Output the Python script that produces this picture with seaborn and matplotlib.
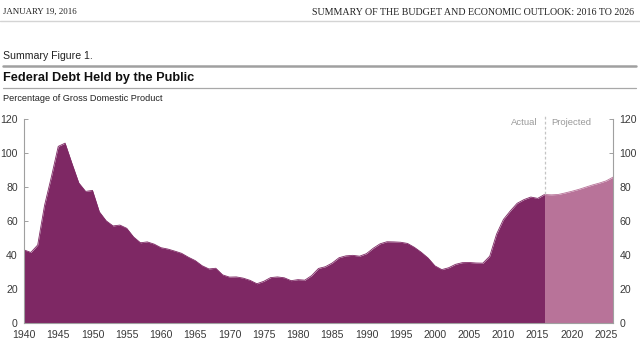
import matplotlib
matplotlib.use("Agg")
import matplotlib.pyplot as plt
import pandas as pd
import seaborn as sns

# Federal debt held by the public, percent of GDP (fiscal years)
years_actual = list(range(1940, 2016))
debt_actual = [
    43.0, 41.5, 45.9, 69.2, 86.0, 103.9, 105.8, 93.9, 82.4, 77.4,
    78.0, 65.4, 60.1, 57.1, 57.6, 55.7, 50.6, 47.2, 47.7, 46.4,
    44.3, 43.5, 42.3, 41.0, 38.7, 36.7, 33.7, 31.8, 32.2, 28.3,
    27.0, 27.1, 26.4, 25.1, 23.1, 24.5, 26.7, 27.1, 26.6, 24.9,
    25.5, 25.2, 27.9, 32.1, 33.1, 35.3, 38.4, 39.5, 39.8, 39.3,
    40.8, 44.0, 46.6, 47.8, 47.7, 47.5, 46.8, 44.5, 41.6, 38.2,
    33.6, 31.4, 32.5, 34.5, 35.5, 35.6, 35.3, 35.2, 39.3, 52.3,
    60.9, 65.9, 70.4, 72.6, 74.1, 73.3,
]
years_projected = list(range(2016, 2027))
debt_projected = [75.6, 75.4, 75.6, 76.5, 77.5, 78.6, 79.9, 81.2, 82.3, 83.6, 85.8]

x_ticks = list(range(1940, 2030, 5))
y_ticks = [0, 20, 40, 60, 80, 100, 120]

header_left = "JANUARY 19, 2016"
header_right = "SUMMARY OF THE BUDGET AND ECONOMIC OUTLOOK: 2016 TO 2026"
figure_label = "Summary Figure 1."
title = "Federal Debt Held by the Public"
subtitle = "Percentage of Gross Domestic Product"
label_actual = "Actual"
label_projected = "Projected"

DARK = "#7E2864"
LIGHT = "#B87399"
TEXT = "#3a3a3a"

sns.set_theme(style="white")
plt.rcParams["font.family"] = ["Liberation Sans Narrow", "Liberation Sans", "DejaVu Sans"]

W, H = 640, 347
fig = plt.figure(figsize=(W / 100, H / 100), dpi=100)

# page overlay in pixel coordinates for header, rules and titles
ov = fig.add_axes([0, 0, 1, 1])
ov.set_xlim(0, W)
ov.set_ylim(H, 0)
ov.axis("off")

serif = ["Liberation Serif", "DejaVu Serif"]
ov.text(3, 12, header_left, family=serif, fontsize=6.4, color="#222",
        va="center", ha="left")
ov.text(634, 12, header_right, family=serif, fontsize=7.2, color="#222",
        va="center", ha="right")
ov.plot([0, W], [20.5, 20.5], color="#d4d4d4", lw=1.0)

ov.text(3, 56, figure_label, fontsize=7.6, color="#222", va="center",
        ha="left", weight="medium")
ov.plot([3, 636], [65.7, 65.7], color="#a0a0a0", lw=1.8)
ov.text(3, 77.5, title, fontsize=9.2, color="#111", va="center", ha="left",
        weight="bold")
ov.plot([3, 636], [88.3, 88.3], color="#a8a8a8", lw=0.9)
ov.text(3, 98.5, subtitle, fontsize=6.6, color="#222", va="center", ha="left")

# chart axes
ax = fig.add_axes([24 / W, 1 - 323 / H, 589 / W, 204 / H])

actual_df = pd.DataFrame({
    "year": years_actual + years_projected[:1],
    "debt": debt_actual + debt_projected[:1],
})
proj_df = pd.DataFrame({"year": years_projected, "debt": debt_projected})

ax.fill_between(actual_df["year"], 0, actual_df["debt"], color=DARK, lw=0)
ax.fill_between(proj_df["year"], 0, proj_df["debt"], color=LIGHT, lw=0)
sns.lineplot(data=actual_df, x="year", y="debt", color=DARK, lw=0.6, ax=ax)
sns.lineplot(data=proj_df, x="year", y="debt", color=LIGHT, lw=0.6, ax=ax)

split = years_projected[0]
ax.plot([split, split], [debt_projected[0], 121.5], color="#c4c4c4", lw=0.9,
        ls=(0, (2.2, 1.8)), clip_on=False)
ax.annotate(label_actual, (split, 118), xytext=(-5, 0), textcoords="offset points",
            ha="right", va="center", fontsize=6.8, color="#9a9a9a")
ax.annotate(label_projected, (split, 118), xytext=(5, 0), textcoords="offset points",
            ha="left", va="center", fontsize=6.8, color="#9a9a9a")

ax.set_xlim(1940, 2026)
ax.set_ylim(0, 120)
ax.set_xticks(x_ticks)
ax.set_yticks(y_ticks)
ax.set_xlabel("")
ax.set_ylabel("")

for side in ("left", "right", "bottom"):
    ax.spines[side].set_visible(True)
    ax.spines[side].set_color("#a0a0a0")
    ax.spines[side].set_linewidth(0.8)
ax.spines["top"].set_visible(False)

ax.tick_params(axis="y", which="both", left=True, right=True, labelleft=True,
               labelright=True, direction="in", length=3, width=0.7,
               color="#a0a0a0", labelsize=7.6, labelcolor=TEXT, pad=4.5)
ax.tick_params(axis="x", bottom=True, direction="in", length=3, width=0.7,
               color="#d8c0d0", labelsize=7.6, labelcolor=TEXT, pad=5)

fig.savefig("out.png", dpi=100)
